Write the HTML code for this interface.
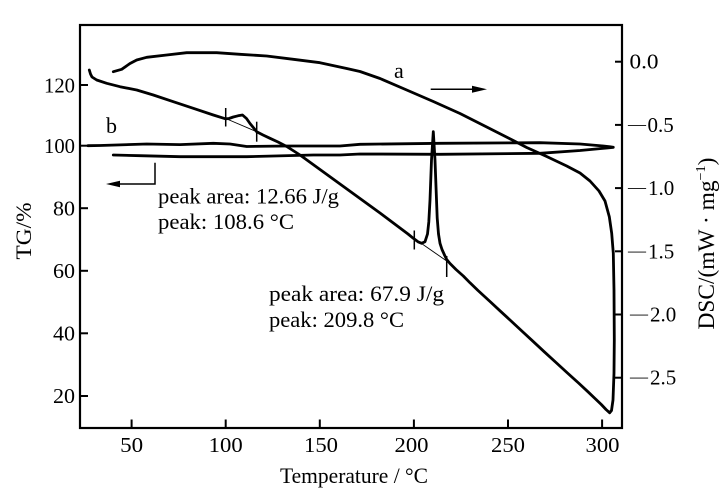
<!DOCTYPE html>
<html><head><meta charset="utf-8"><style>
html,body{margin:0;padding:0;background:#fff;}
svg{display:block;}
text{font-family:"Liberation Serif","Times New Roman",serif;fill:#000;}
</style></head><body>
<svg width="728" height="499" viewBox="0 0 728 499" xmlns="http://www.w3.org/2000/svg">
<rect x="0" y="0" width="728" height="499" fill="#fff"/>
<!-- frame -->
<rect x="80" y="25" width="542" height="403" fill="none" stroke="#000" stroke-width="2.2"/>
<!-- left ticks -->
<g stroke="#000" stroke-width="2">
<line x1="80" y1="85" x2="88" y2="85"/>
<line x1="80" y1="145.7" x2="88" y2="145.7"/>
<line x1="80" y1="208.2" x2="88" y2="208.2"/>
<line x1="80" y1="270.8" x2="88" y2="270.8"/>
<line x1="80" y1="333.3" x2="88" y2="333.3"/>
<line x1="80" y1="396" x2="88" y2="396"/>
<!-- bottom ticks -->
<line x1="131.6" y1="428" x2="131.6" y2="419.5"/>
<line x1="225.7" y1="428" x2="225.7" y2="419.5"/>
<line x1="319.8" y1="428" x2="319.8" y2="419.5"/>
<line x1="413.9" y1="428" x2="413.9" y2="419.5"/>
<line x1="508" y1="428" x2="508" y2="419.5"/>
<line x1="602.1" y1="428" x2="602.1" y2="419.5"/>
<!-- right ticks -->
<line x1="622" y1="61.7" x2="615" y2="61.7"/>
<line x1="622" y1="124.9" x2="615" y2="124.9"/>
<line x1="622" y1="188.1" x2="615" y2="188.1"/>
<line x1="622" y1="251.3" x2="615" y2="251.3"/>
<line x1="622" y1="314.5" x2="615" y2="314.5"/>
<line x1="622" y1="377.7" x2="615" y2="377.7"/>
</g>
<!-- left tick labels -->
<g font-size="21" text-anchor="end">
<text x="75" y="92.5" textLength="31" lengthAdjust="spacingAndGlyphs">120</text>
<text x="75" y="153" textLength="31" lengthAdjust="spacingAndGlyphs">100</text>
<text x="75" y="215.5" textLength="22" lengthAdjust="spacingAndGlyphs">80</text>
<text x="75" y="278" textLength="22" lengthAdjust="spacingAndGlyphs">60</text>
<text x="75" y="340.5" textLength="22" lengthAdjust="spacingAndGlyphs">40</text>
<text x="75" y="403" textLength="22" lengthAdjust="spacingAndGlyphs">20</text>
</g>
<!-- bottom tick labels -->
<g font-size="21" text-anchor="middle">
<text x="131.6" y="452" textLength="23" lengthAdjust="spacingAndGlyphs">50</text>
<text x="225.7" y="452" textLength="34" lengthAdjust="spacingAndGlyphs">100</text>
<text x="321" y="452" textLength="34" lengthAdjust="spacingAndGlyphs">150</text>
<text x="411.5" y="452" textLength="34" lengthAdjust="spacingAndGlyphs">200</text>
<text x="508" y="452" textLength="34" lengthAdjust="spacingAndGlyphs">250</text>
<text x="602.5" y="452" textLength="34" lengthAdjust="spacingAndGlyphs">300</text>
</g>
<!-- right tick labels -->
<g font-size="21">
<text x="629.5" y="68.7" textLength="29" lengthAdjust="spacingAndGlyphs">0.0</text>
<text x="628" y="131.9"><tspan font-size="18" dy="-2">—</tspan><tspan dy="2" x="647.5">0.5</tspan></text>
<text x="628" y="195.1"><tspan font-size="18" dy="-2">—</tspan><tspan dy="2" x="648">1.0</tspan></text>
<text x="628" y="258.3"><tspan font-size="18" dy="-2">—</tspan><tspan dy="2" x="648">1.5</tspan></text>
<text x="630" y="321.5"><tspan font-size="18" dy="-2">—</tspan><tspan dy="2" x="650">2.0</tspan></text>
<text x="630" y="384.7"><tspan font-size="18" dy="-2">—</tspan><tspan dy="2" x="650">2.5</tspan></text>
</g>
<!-- axis titles -->
<text x="280" y="483" font-size="22" textLength="148" lengthAdjust="spacingAndGlyphs">Temperature / °C</text>
<text transform="translate(31,231) rotate(-90)" font-size="22" text-anchor="middle" textLength="57" lengthAdjust="spacingAndGlyphs">TG/%</text>
<text transform="translate(714,243.5) rotate(-90)" font-size="23" text-anchor="middle" textLength="172" lengthAdjust="spacingAndGlyphs">DSC/(mW · mg<tspan font-size="14" dy="-9">−1</tspan><tspan dy="9">)</tspan></text>
<!-- curves -->
<g fill="none" stroke="#000" stroke-width="2.8" stroke-linejoin="round" stroke-linecap="round">
<polyline points="89.3,70 90.5,74 92,77 96.7,80 106.7,83.3 120,86.7 136.7,90 153.3,95 173.3,101.7 193.3,108.3 213.3,115 225.5,118.8 229,118.5 233.3,117 238,115.8 242.5,115 246.5,118.5 250,123.5 253.3,127.5 256.7,131.7 263,135 270,138.3 278,142 286.7,146.5 293,150.5 300,155 310,162.2 320,169.5 330,176.8 340,184 350,191.3 360,198.5 370,205.8 380,213 390,220.5 400,228 408,234 413.3,238.3 418,241.8 421.7,243.3 425,241.7 427.5,234 428.8,222 430,200 431.5,160 433.3,131.7 435,160 436,186.7 437.2,218 438.5,234 440,243.3 442,249.5 444.5,255 446.7,259.5 450,263.5 456,269.5 463.3,276 470,282.8 478,290.5 490,301.5 500,310.8 510,320 521.3,330.5 533,341.3 544.7,352.2 556,362.5 568,373.5 578,382.5 588,391.8 595,398.5 601.3,404.5 606,409.5 609.7,412.8 611.5,410.5 613,400 614,373 614.3,340 614,290 613.3,253.3 611.7,233.3 609.3,216.7 605,201 599,191 590,181 580,173 566.7,166 546.7,156.5 526.7,147.5 513.3,140.5 486.7,127 460,113.5 433.3,101.5 406.7,90 380,78.5 360,71.5 346.7,68.5 320,62.7 293.3,59.3 266.7,56 240,54.3 216.7,52.7 186.7,52.7 166.7,55 146.7,57.3 136.7,60 130,63.5 121.7,69.3 113.3,71.7"/>
<polyline points="88,145.7 100,145.5 146.7,144 180,144.6 213.3,143.3 230,144 246.7,146.5 286.7,146 340,146 360,144.3 440,143.3 540,142.7 580,144 603.3,146 610,146.8 613.3,147.3 607,148 600,148.6 580,150.5 540,153.3 440,154.3 360,154 340,155 313.3,155 246.7,156.7 180,156.7 140,155.7 113.3,155"/>
</g>
<!-- baselines and markers -->
<g stroke="#000" fill="none">
<line x1="225.7" y1="118.5" x2="256.7" y2="131.7" stroke-width="0.9"/>
<line x1="414.3" y1="238.5" x2="446.7" y2="261" stroke-width="0.9"/>
<line x1="225.7" y1="108" x2="225.7" y2="126.5" stroke-width="1.5"/>
<line x1="256.7" y1="121.7" x2="256.7" y2="141.7" stroke-width="1.5"/>
<line x1="414.3" y1="230.5" x2="414.3" y2="249.5" stroke-width="1.5"/>
<line x1="446.7" y1="256" x2="446.7" y2="277" stroke-width="1.5"/>
<!-- arrows -->
<polyline points="155,162.7 155,184 118,184" stroke-width="1.5"/>
<line x1="430.7" y1="89.3" x2="474" y2="89.3" stroke-width="1.5"/>
</g>
<polygon points="106,184 120,180.8 120,187.2" fill="#000"/>
<polygon points="487,89.3 472,85.8 472,92.8" fill="#000"/>
<!-- labels -->
<text x="394" y="78" font-size="22">a</text>
<text x="106" y="133" font-size="22">b</text>
<g font-size="22">
<text x="158" y="203.3" textLength="181" lengthAdjust="spacingAndGlyphs">peak area: 12.66 J/g</text>
<text x="158" y="229" textLength="136" lengthAdjust="spacingAndGlyphs">peak: 108.6 °C</text>
<text x="269" y="301" textLength="175" lengthAdjust="spacingAndGlyphs">peak area: 67.9  J/g</text>
<text x="269" y="327" textLength="135" lengthAdjust="spacingAndGlyphs">peak: 209.8 °C</text>
</g>
</svg>
</body></html>
